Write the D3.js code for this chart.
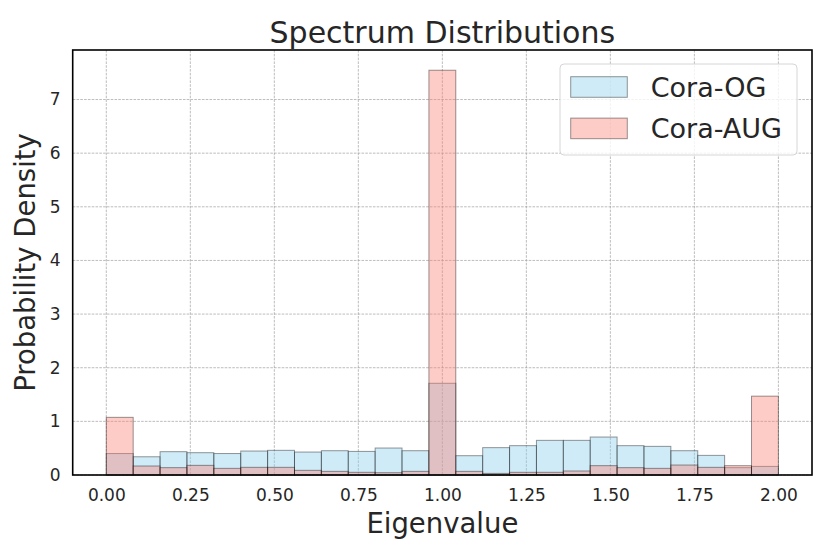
<!DOCTYPE html>
<html lang="en">
<head>
    <meta charset="UTF-8">
    <title>Spectrum Distributions</title>
    <script src="https://d3js.org/d3.v7.min.js"></script>
    <style>
        body { margin: 0; background: #fff; }
        text { font-family: "DejaVu Sans", sans-serif; fill: #262626; }
    </style>
</head>
<body>
    <div id="my_dataviz"></div>
    <script>
        // histogram: 25 bins of width 0.08 on [0, 2]
        var binEdges = d3.range(0, 26).map(function(i) { return +(i * 0.08).toFixed(2); });
        var ogDensity = [0.40, 0.34, 0.435, 0.416, 0.40, 0.447, 0.46, 0.428, 0.453, 0.44, 0.503, 0.453,
                         1.71, 0.36, 0.51, 0.547, 0.646, 0.646, 0.708, 0.547, 0.534, 0.453, 0.366, 0.137, 0.16];
        var augDensity = [1.075, 0.168, 0.137, 0.18, 0.124, 0.143, 0.143, 0.087, 0.068, 0.05, 0.043, 0.068,
                          7.546, 0.068, 0.03, 0.05, 0.05, 0.075, 0.174, 0.137, 0.124, 0.186, 0.143, 0.174, 1.47];
        var xTicks = [0, 0.25, 0.5, 0.75, 1.0, 1.25, 1.5, 1.75, 2.0];
        var yTicks = [0, 1, 2, 3, 4, 5, 6, 7];
        var seriesNames = ["Cora-OG", "Cora-AUG"];
        var seriesColors = ["#87ceeb", "#fa8072"];

        var W = 830, H = 554;
        var margin = {top: 50, right: 18, bottom: 79, left: 72.7};
        var width = W - margin.left - margin.right,
            height = H - margin.top - margin.bottom;

        var svg = d3.select("#my_dataviz")
          .append("svg")
            .attr("width", W)
            .attr("height", H);
        var g = svg.append("g")
            .attr("transform", "translate(" + margin.left + "," + margin.top + ")");

        var x = d3.scaleLinear().domain([-0.1, 2.1]).range([0, width]);
        var yMax = d3.max(augDensity) * 1.05;
        var y = d3.scaleLinear().domain([0, yMax]).range([height, 0]);

        // grid
        g.append("g").selectAll("line.vg")
            .data(xTicks).enter().append("line")
            .attr("x1", function(d) { return x(d); })
            .attr("x2", function(d) { return x(d); })
            .attr("y1", 0).attr("y2", height)
            .attr("stroke", "#a0a0a0").attr("stroke-width", 0.7)
            .attr("stroke-dasharray", "2.6,1.2");
        g.append("g").selectAll("line.hg")
            .data(yTicks).enter().append("line")
            .attr("x1", 0).attr("x2", width)
            .attr("y1", function(d) { return y(d); })
            .attr("y2", function(d) { return y(d); })
            .attr("stroke", "#a0a0a0").attr("stroke-width", 0.7)
            .attr("stroke-dasharray", "2.6,1.2");

        // bars
        [ogDensity, augDensity].forEach(function(vals, si) {
            g.append("g").selectAll("rect")
                .data(vals).enter().append("rect")
                .attr("x", function(d, i) { return x(binEdges[i]); })
                .attr("width", function(d, i) { return x(binEdges[i + 1]) - x(binEdges[i]); })
                .attr("y", function(d) { return y(d); })
                .attr("height", function(d) { return y(0) - y(d); })
                .attr("fill", seriesColors[si]).attr("fill-opacity", 0.4)
                .attr("stroke", "#000").attr("stroke-opacity", 0.4).attr("stroke-width", 1);
        });

        // axes (no tick marks)
        var xAxis = g.append("g")
            .attr("transform", "translate(0," + height + ")")
            .call(d3.axisBottom(x).tickValues(xTicks).tickFormat(d3.format(".2f")).tickSize(0).tickPadding(14));
        var yAxis = g.append("g")
            .call(d3.axisLeft(y).tickValues(yTicks).tickFormat(d3.format("d")).tickSize(0).tickPadding(12));
        [xAxis, yAxis].forEach(function(a) {
            a.select(".domain").remove();
            a.selectAll("text").style("font-size", "17px").style("font-family", "DejaVu Sans").attr("fill", "#262626");
        });

        // spines
        g.append("rect")
            .attr("x", 0).attr("y", 0).attr("width", width).attr("height", height)
            .attr("fill", "none").attr("stroke", "#000").attr("stroke-width", 1.6);

        // title and labels
        svg.append("text")
            .attr("x", margin.left + width / 2).attr("y", 42.7)
            .style("text-anchor", "middle").style("font-size", "30px")
            .text("Spectrum Distributions");
        svg.append("text")
            .attr("x", margin.left + width / 2).attr("y", 532.7)
            .style("text-anchor", "middle").style("font-size", "27.5px")
            .text("Eigenvalue");
        svg.append("text")
            .attr("transform", "translate(35," + (margin.top + height / 2) + ") rotate(-90)")
            .style("text-anchor", "middle").style("font-size", "27.5px")
            .text("Probability Density");

        // legend
        var lg = svg.append("g");
        lg.append("rect")
            .attr("x", 560).attr("y", 64).attr("width", 237).attr("height", 91)
            .attr("rx", 4).attr("fill", "#fff").attr("fill-opacity", 0.8)
            .attr("stroke", "#d6d6d6").attr("stroke-width", 1);
        seriesNames.forEach(function(name, i) {
            lg.append("rect")
                .attr("x", 570.7).attr("y", 76.7 + i * 41.4).attr("width", 56.6).attr("height", 20.6)
                .attr("fill", seriesColors[i]).attr("fill-opacity", 0.4)
                .attr("stroke", "#000").attr("stroke-opacity", 0.4).attr("stroke-width", 1);
            lg.append("text")
                .attr("x", 650.7).attr("y", 96.7 + i * 41.6)
                .style("font-size", "27px")
                .text(name);
        });
    </script>
</body>
</html>
